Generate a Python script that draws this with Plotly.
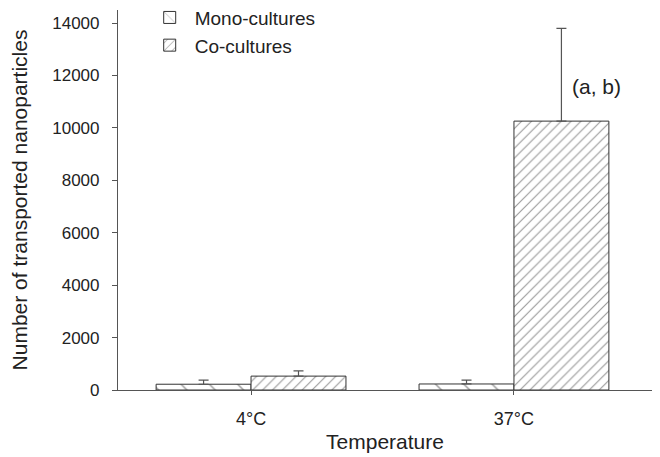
import plotly.graph_objects as go

categories = ["4°C", "37°C"]
mono_values = [220, 230]
mono_err = [160, 150]
co_values = [530, 10260]
co_err = [200, 3540]
y_ticks = [0, 2000, 4000, 6000, 8000, 10000, 12000, 14000]

font_family = "Liberation Sans, Arial, sans-serif"
ink = "#222222"
line_col = "#555555"

fig = go.Figure()
fig.add_trace(go.Bar(
    name="Mono-cultures", x=categories, y=mono_values,
    marker=dict(color="white", line=dict(color="#333333", width=1),
                pattern=dict(shape="\\", size=20, solidity=0.07, fgcolor="#333333", bgcolor="white")),
    error_y=dict(type="data", array=mono_err, arrayminus=[0, 0], symmetric=False,
                 color=line_col, thickness=1.2, width=5),
))
fig.add_trace(go.Bar(
    name="Co-cultures", x=categories, y=co_values,
    marker=dict(color="white", line=dict(color="#333333", width=1),
                pattern=dict(shape="/", size=7, solidity=0.16, fgcolor="#333333", bgcolor="white")),
    error_y=dict(type="data", array=co_err, arrayminus=[0, 0], symmetric=False,
                 color=line_col, thickness=1.2, width=5),
))

fig.add_annotation(x=1, y=11600, text="(a, b)", showarrow=False, xref="x", yref="y",
                   xshift=83, font=dict(size=21, color=ink, family=font_family))

fig.update_layout(
    width=660, height=457,
    margin=dict(l=118, r=8, t=10, b=67, autoexpand=False),
    paper_bgcolor="white", plot_bgcolor="white",
    barmode="group", bargap=0.278, bargroupgap=0,
    font=dict(family=font_family, color=ink, size=17),
    showlegend=True,
    legend=dict(x=0.05, y=1.03, xanchor="left", yanchor="top",
                font=dict(size=19, color=ink), bgcolor="rgba(0,0,0,0)",
                tracegroupgap=0, itemwidth=40),
    xaxis=dict(title=dict(text="Temperature", font=dict(size=21), standoff=6),
               range=[-0.506, 1.525], showline=True, linecolor=line_col, linewidth=1.2,
               ticks="outside", ticklen=4, tickcolor=line_col, showgrid=False, zeroline=False,
               tickfont=dict(size=18), ticklabelstandoff=8),
    yaxis=dict(title=dict(text="Number of transported nanoparticles", font=dict(size=21), standoff=18),
               range=[0, 14500], tickvals=y_ticks, tickformat="d",
               showline=True, linecolor=line_col, linewidth=1.2,
               ticks="outside", ticklen=5, tickcolor=line_col, showgrid=False, zeroline=False,
               tickfont=dict(size=17), ticklabelstandoff=9),
)

fig.write_html("out.html")
